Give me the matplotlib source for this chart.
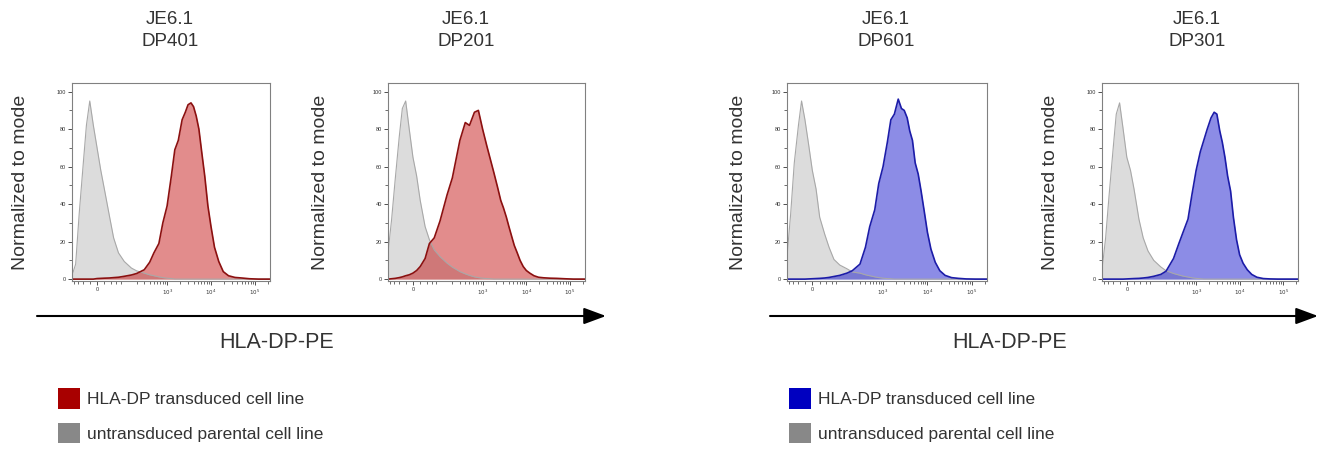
import matplotlib.pyplot as plt
from matplotlib.patches import Patch, FancyArrowPatch

plt.rcParams['font.family'] = ['Liberation Sans', 'DejaVu Sans']

# fluorescence channel values (HLA-DP-PE) the histograms are read at
x_grid = [-88, -70, -55, -40, -30, -20, -10, 0, 10, 20, 35, 50, 70,
          100, 150, 200, 300, 400, 500, 650, 800,
          1000, 1250, 1500, 1800, 2200, 2600, 3000, 3500, 4000, 4600, 5300, 6200, 7200, 8500,
          10000, 12000, 15000, 19000, 25000, 35000, 50000, 75000, 120000, 220000]

# % of mode, untransduced parental line
gray_dp401 = [2, 8, 35, 62, 82, 95, 82, 70, 58, 48, 34, 22, 14,
              9.4, 5.9, 4.4, 3.2, 2.3, 1.8, 1.2, 0.8,
              0.5, 0.3, 0, 0, 0, 0, 0, 0, 0, 0, 0, 0, 0, 0,
              0, 0, 0, 0, 0, 0, 0, 0, 0, 0]
gray_dp201 = [14, 32, 53, 76, 91, 95, 80, 65, 55, 42, 28, 21, 15.6,
              12, 8.5, 6.4, 4, 2.8, 2, 1.2, 0.8,
              0.5, 0.3, 0.2, 0, 0, 0, 0, 0, 0, 0, 0, 0, 0, 0,
              0, 0, 0, 0, 0, 0, 0, 0, 0, 0]
gray_dp601 = [12, 35, 62, 82, 95, 85, 72, 58, 48, 33, 24, 17, 10.5,
              7.5, 5.5, 3.8, 3.2, 2.3, 1.8, 1.2, 0.8,
              0.5, 0.3, 0.2, 0, 0, 0, 0, 0, 0, 0, 0, 0, 0, 0,
              0, 0, 0, 0, 0, 0, 0, 0, 0, 0]
gray_dp301 = [5, 22, 45, 70, 88, 94, 80, 65, 58, 48, 32, 22, 15,
              10, 6.5, 4.5, 3, 2.2, 1.6, 1.1, 0.7,
              0.4, 0.2, 0, 0, 0, 0, 0, 0, 0, 0, 0, 0, 0, 0,
              0, 0, 0, 0, 0, 0, 0, 0, 0, 0]

# % of mode, HLA-DP transduced lines
tx_dp401 = [0, 0, 0, 0, 0, 0, 0, 0.3, 0.4, 0.5, 0.6, 0.8, 1.0,
            1.5, 2.2, 3, 5, 9, 14, 19, 30,
            39, 55, 69, 74, 85, 89, 93, 94, 92, 87, 80, 67, 55, 39,
            28, 17, 9.4, 4, 1.8, 0.9, 0.6, 0.2, 0, 0]
tx_dp201 = [0, 0.2, 0.4, 0.8, 1.2, 1.8, 2.3, 3.2, 4.6, 6.7, 11, 19, 22,
            31, 45, 54, 74, 83.5, 82, 89, 90,
            80, 71, 64, 57, 49, 42, 38, 33, 28, 23, 18, 14, 10, 6.7,
            4.6, 3.2, 1.8, 1, 0.7, 0.5, 0.4, 0.2, 0, 0]
tx_dp601 = [0, 0, 0, 0, 0, 0, 0.1, 0.2, 0.3, 0.4, 0.6, 0.9, 1.4,
            2, 3.2, 4.5, 8, 17, 28, 37, 51,
            60, 73, 85, 88, 96, 91, 90, 86, 79, 74, 62, 56, 47, 36,
            25, 16, 9, 4.5, 2, 0.8, 0.4, 0.1, 0, 0]
tx_dp301 = [0, 0, 0, 0, 0, 0, 0, 0.1, 0.2, 0.3, 0.4, 0.6, 0.9,
            1.5, 2.5, 4.2, 11, 19, 25, 32, 45,
            58, 68, 74, 80, 86, 89, 88, 79, 73, 65, 55, 47, 33, 21,
            13, 8.5, 5, 2.5, 1, 0.3, 0.1, 0, 0, 0]

names = ['DP401', 'DP201', 'DP601', 'DP301']
grays = [gray_dp401, gray_dp201, gray_dp601, gray_dp301]
transduced = [tx_dp401, tx_dp201, tx_dp601, tx_dp301]
colors = ['red', 'red', 'blue', 'blue']

W, H = 1330, 449
fig = plt.figure(figsize=(W / 100, H / 100), dpi=100)

styles = {'red': ('#c00000', '#8b1010'), 'blue': ('#0000c8', '#1c1ca8')}
lefts = [72, 388, 787, 1102]
widths = [198, 197, 200, 196]
title_x = [170, 466, 886, 1197]
ylab_x = [-0.218, -0.3, -0.2, -0.22]

minor_x = [-80, -60, -40, -20, 20, 40, 60, 80, 200, 300, 400, 500, 600, 700, 800, 900,
           2000, 3000, 4000, 5000, 6000, 7000, 8000, 9000,
           20000, 30000, 40000, 50000, 60000, 70000, 80000, 90000, 200000]

for i in range(4):
    fc, ec = styles[colors[i]]
    ax = fig.add_axes([lefts[i] / W, (H - 281) / H, widths[i] / W, 198 / H])
    ax.fill_between(x_grid, grays[i], color='#dcdcdc', lw=0)
    ax.plot(x_grid, grays[i], color='#a8a8a8', lw=0.8)
    ax.fill_between(x_grid, transduced[i], color=fc, alpha=0.45, lw=0)
    ax.plot(x_grid, transduced[i], color=ec, lw=1.2)

    ax.set_xscale('asinh', linear_width=51)
    ax.set_xlim(-88, 2.2e5)
    ax.set_ylim(-1, 104.6)
    ax.set_xticks([0, 1e3, 1e4, 1e5], ['0', '$10^3$', '$10^4$', '$10^5$'])
    ax.set_xticks(minor_x, minor=True)
    ax.set_yticks(range(0, 101, 20))
    ax.set_yticks(range(10, 100, 20), minor=True)
    ax.tick_params(labelsize=4, length=3, width=0.6, colors='#333333', pad=1.5)
    ax.tick_params(which='minor', length=2, width=0.5, colors='#333333')
    for s in ax.spines.values():
        s.set_color('#808080')
        s.set_linewidth(0.8)

    ax.set_ylabel('Normalized to mode', fontsize=14, color='#333333')
    ax.yaxis.set_label_coords(ylab_x[i], 0.5)

    fig.text(title_x[i] / W, 1 - 20 / H, 'JE6.1', ha='center', va='center',
             fontsize=13.5, color='#333333')
    fig.text(title_x[i] / W, 1 - 42 / H, names[i], ha='center', va='center',
             fontsize=13.5, color='#333333')

# axis arrows and shared x labels
for x0, x1, xl in [(37, 606, 277), (770, 1318, 1010)]:
    arr = FancyArrowPatch((x0 / W, 1 - 316 / H), (x1 / W, 1 - 316 / H),
                          transform=fig.transFigure, color='black', lw=1.5,
                          arrowstyle='-|>,head_length=1.35,head_width=0.5',
                          mutation_scale=10, shrinkA=0, shrinkB=0)
    fig.add_artist(arr)
    fig.text(xl / W, 1 - 342 / H, 'HLA-DP-PE', ha='center', va='center',
             fontsize=15.5, color='#333333')

labels = ['HLA-DP transduced cell line', 'untransduced parental cell line']
for x0, col in [(58, '#a80000'), (789, '#0000c0')]:
    handles = [Patch(facecolor=col, edgecolor='none'),
               Patch(facecolor='#888888', edgecolor='none')]
    fig.legend(handles, labels, loc='upper left', bbox_to_anchor=(x0 / W, 1 - 388 / H),
               frameon=False, fontsize=12.5, handlelength=1.27, handleheight=1.45,
               handletextpad=0.4, labelspacing=0.8, borderpad=0, borderaxespad=0,
               labelcolor='#333333')

fig.savefig('out.png', dpi=100)
